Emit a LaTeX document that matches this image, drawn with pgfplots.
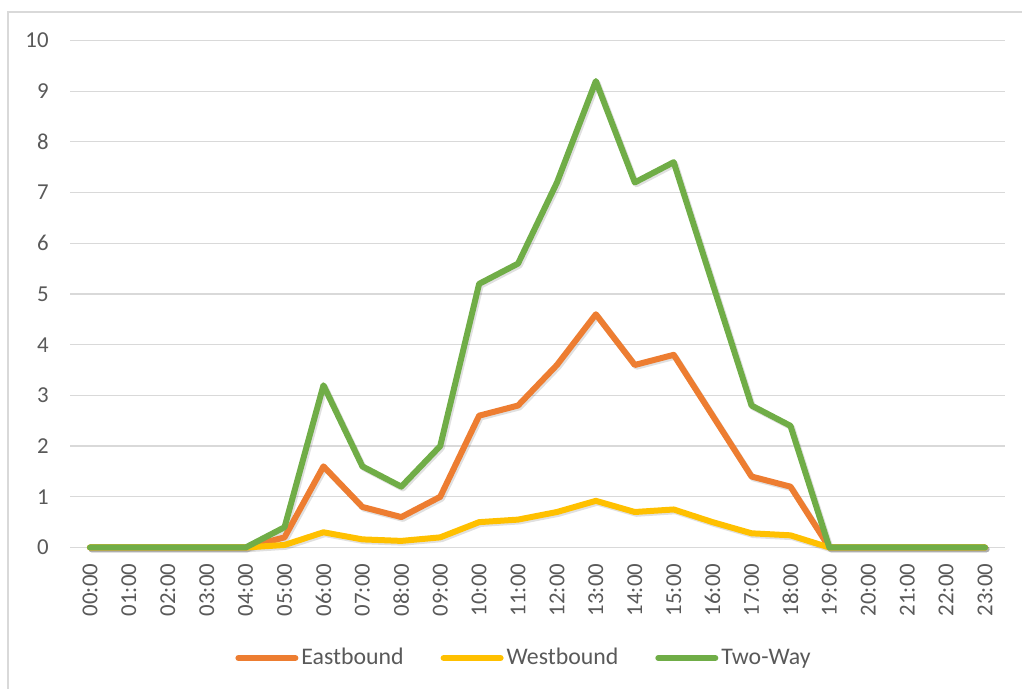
\documentclass[border=0pt]{standalone}
\usepackage{pgfplots}
\pgfplotsset{compat=1.18}
\usepackage{fontspec}
\setmainfont{Carlito}
\definecolor{cEast}{HTML}{ED7D31}
\definecolor{cWest}{HTML}{FFC000}
\definecolor{cTwo}{HTML}{70AD47}
\definecolor{cGrid}{HTML}{D9D9D9}
\definecolor{cText}{HTML}{595959}
\pgfplotstableread{
h east west two
0 0 0 0
1 0 0 0
2 0 0 0
3 0 0 0
4 0 0 0
5 0.2 0.05 0.4
6 1.6 0.3 3.2
7 0.8 0.16 1.6
8 0.6 0.13 1.2
9 1.0 0.2 2.0
10 2.6 0.5 5.2
11 2.8 0.55 5.6
12 3.6 0.7 7.2
13 4.6 0.92 9.2
14 3.6 0.7 7.2
15 3.8 0.75 7.6
16 2.6 0.5 5.2
17 1.4 0.28 2.8
18 1.2 0.24 2.4
19 0 0 0
20 0 0 0
21 0 0 0
22 0 0 0
23 0 0 0
}\data
\begin{document}
\begin{tikzpicture}
\useasboundingbox (-35.25pt,-70.75pt) rectangle (475.75pt,273.75pt);
\draw[cGrid, line width=0.6pt] (-31.25pt,-70.75pt) -- (-31.25pt,267.75pt) -- (475.75pt,267.75pt);
\begin{axis}[
  at={(0,0)}, anchor=south west,
  scale only axis, width=467pt, height=253.5pt,
  xmin=-0.5, xmax=23.5, ymin=0, ymax=10,
  clip=false,
  axis line style={draw=none},
  xtick={0,...,23},
  xticklabels={00:00,01:00,02:00,03:00,04:00,05:00,06:00,07:00,08:00,09:00,10:00,11:00,12:00,13:00,14:00,15:00,16:00,17:00,18:00,19:00,20:00,21:00,22:00,23:00},
  ytick={0,1,...,10},
  major tick length=0pt,
  ymajorgrids, grid style={cGrid, line width=0.6pt},
  /pgf/number format/assume math mode=true,
  ticklabel style={font=\fontsize{11.4}{13}\selectfont, text=cText},
  yticklabel style={inner sep=0pt, xshift=-10.75pt},
  xticklabel style={rotate=90, anchor=east, inner sep=0pt, xshift=-8pt},
  legend columns=3,
  legend style={at={(axis description cs:0.4845,-0.218)}, anchor=center, draw=none, fill=none,
    font=\fontsize{11.9}{13}\selectfont, text=cText, inner sep=0pt,
    nodes={inner sep=0pt},
    /tikz/every odd column/.append style={column sep=1.5pt},
    /tikz/every even column/.append style={column sep=18.5pt}},
  legend image code/.code={\draw[#1, line width=3pt, line cap=round] (0pt,0pt) -- (28.5pt,0pt);},
  every axis plot/.append style={line width=3pt, line join=round, line cap=round},
]
\addplot[black, opacity=0.12, forget plot, transform canvas={shift={(0.8pt,-0.9pt)}}] table[x=h, y=east] {\data};
\addplot[black, opacity=0.12, forget plot, transform canvas={shift={(0.8pt,-0.9pt)}}] table[x=h, y=west] {\data};
\addplot[black, opacity=0.12, forget plot, transform canvas={shift={(0.8pt,-0.9pt)}}] table[x=h, y=two] {\data};
\addplot[cEast] table[x=h, y=east] {\data};
\addlegendentry{Eastbound}
\addplot[cWest] table[x=h, y=west] {\data};
\addlegendentry{Westbound}
\addplot[cTwo] table[x=h, y=two] {\data};
\addlegendentry{Two-Way}
\end{axis}
\end{tikzpicture}
\end{document}
